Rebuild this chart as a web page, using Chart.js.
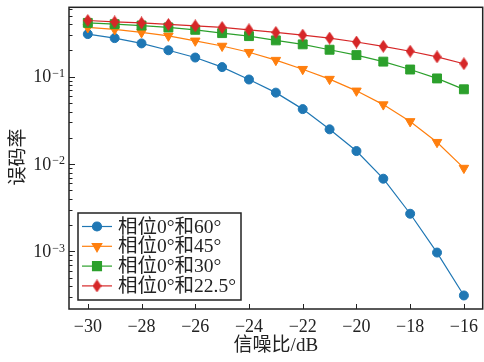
<!DOCTYPE html>
<html>
<head>
<meta charset="utf-8">
<script src="https://cdn.jsdelivr.net/npm/chart.js@4.4.0/dist/chart.umd.min.js"></script>
<style>
body { margin: 0; overflow: hidden; background: #fff; }
</style>
</head>
<body>
<canvas id="berChart" width="490" height="362"></canvas>
<script>
// 数据
const snr = [-30, -29, -28, -27, -26, -25, -24, -23, -22, -21, -20, -19, -18, -17, -16];
const ber60 = [0.308, 0.277, 0.241, 0.201, 0.166, 0.129, 0.093, 0.0658, 0.0426, 0.025, 0.0141, 0.0068, 0.0027, 0.00097, 0.000313];
const ber45 = [0.367, 0.348, 0.322, 0.294, 0.258, 0.225, 0.191, 0.155, 0.122, 0.094, 0.069, 0.048, 0.0308, 0.0178, 0.009];
const ber30 = [0.414, 0.400, 0.386, 0.367, 0.345, 0.316, 0.292, 0.261, 0.235, 0.204, 0.177, 0.149, 0.121, 0.0957, 0.0718];
const ber225 = [0.441, 0.425, 0.414, 0.397, 0.383, 0.367, 0.345, 0.322, 0.300, 0.277, 0.250, 0.223, 0.196, 0.169, 0.141];
const seriesNames = ['相位0°和60°', '相位0°和45°', '相位0°和30°', '相位0°和22.5°'];
const xTicks = [-30, -28, -26, -24, -22, -20, -18, -16];
const yTicks = [1e-3, 1e-2, 1e-1];
const yTickExp = ['−3', '−2', '−1'];

const FONT = "'Liberation Serif', 'Noto Sans CJK SC', serif";
const INK = '#222';

function thinDiamond(color) {
    const c = document.createElement('canvas');
    c.width = 9; c.height = 13;
    const g = c.getContext('2d');
    g.fillStyle = color;
    g.beginPath();
    g.moveTo(4.5, 0); g.lineTo(9, 6.5); g.lineTo(4.5, 13); g.lineTo(0, 6.5);
    g.closePath();
    g.fill();
    return c;
}

function makeSet(label, values, color, style, radius, rotation, order) {
    return {
        label: label,
        data: snr.map((x, i) => ({ x: x, y: values[i] })),
        borderColor: color,
        backgroundColor: color,
        borderWidth: 1.2,
        pointStyle: style,
        pointRadius: radius,
        pointRotation: rotation,
        pointBorderWidth: 1,
        pointBackgroundColor: color,
        pointBorderColor: color,
        tension: 0,
        order: order
    };
}

// 坐标框、刻度、标题和图例
const decorPlugin = {
    id: 'decor',
    afterDraw(chart) {
        const ctx = chart.ctx;
        const a = chart.chartArea;
        const xs = chart.scales.x, ys = chart.scales.y;
        ctx.save();
        ctx.strokeStyle = INK;
        ctx.lineWidth = 1.5;
        ctx.strokeRect(a.left, a.top, a.right - a.left, a.bottom - a.top);

        ctx.lineWidth = 1;
        ctx.beginPath();
        xTicks.forEach(v => {
            const px = Math.round(xs.getPixelForValue(v)) + 0.5;
            ctx.moveTo(px, a.bottom); ctx.lineTo(px, a.bottom - 5);
        });
        for (let n = -4; n <= 0; n++) {
            for (let k = 1; k <= 9; k++) {
                const v = k * Math.pow(10, n);
                if (v < ys.min || v > ys.max) continue;
                const py = Math.round(ys.getPixelForValue(v)) + 0.5;
                ctx.moveTo(a.left, py); ctx.lineTo(a.left + (k === 1 ? 6 : 3.5), py);
            }
        }
        ctx.stroke();

        // y 刻度标签 10^n
        ctx.fillStyle = INK;
        yTicks.forEach((v, i) => {
            const py = ys.getPixelForValue(v);
            ctx.font = '12px ' + FONT;
            const ew = ctx.measureText(yTickExp[i]).width;
            ctx.textAlign = 'right';
            ctx.textBaseline = 'top';
            ctx.fillText(yTickExp[i], 65, py - 9);
            ctx.font = '18px ' + FONT;
            ctx.textBaseline = 'middle';
            ctx.fillText('10', 65 - ew - 1, py + 1);
        });

        // 轴标题
        ctx.font = '19px ' + FONT;
        ctx.textAlign = 'center';
        ctx.textBaseline = 'middle';
        ctx.fillText('信噪比/dB', (a.left + a.right) / 2, 346);
        ctx.save();
        ctx.translate(19, 157);
        ctx.rotate(-Math.PI / 2);
        ctx.fillText('误码率', 0, 0);
        ctx.restore();

        // 图例
        const lx = 78, ly = 213, lw = 163, lh = 87;
        ctx.fillStyle = '#fff';
        ctx.fillRect(lx, ly, lw, lh);
        ctx.strokeStyle = INK;
        ctx.lineWidth = 1.5;
        ctx.strokeRect(lx, ly, lw, lh);
        chart.data.datasets.forEach((ds, i) => {
            const cy = 226.5 + i * 19.8;
            ctx.strokeStyle = ds.borderColor;
            ctx.lineWidth = 1.2;
            ctx.beginPath();
            ctx.moveTo(82, cy); ctx.lineTo(112, cy);
            ctx.stroke();
            ctx.fillStyle = ds.backgroundColor;
            Chart.helpers.drawPoint(ctx, {
                pointStyle: ds.pointStyle,
                radius: ds.pointRadius,
                rotation: ds.pointRotation,
                borderWidth: 1
            }, 97, cy);
            ctx.fillStyle = INK;
            ctx.font = '19.5px ' + FONT;
            ctx.textAlign = 'left';
            ctx.textBaseline = 'middle';
            ctx.fillText(ds.label, 118, cy + 1);
        });
        ctx.restore();
    }
};

const chart = new Chart(document.getElementById('berChart'), {
    type: 'line',
    data: {
        datasets: [
            makeSet(seriesNames[0], ber60, '#1f77b4', 'circle', 4.5, 0, 4),
            makeSet(seriesNames[1], ber45, '#ff7f0e', 'triangle', 5.5, 180, 3),
            makeSet(seriesNames[2], ber30, '#2ca02c', 'rect', 6.3, 0, 2),
            makeSet(seriesNames[3], ber225, '#d62728', thinDiamond('#d62728'), 5, 0, 1)
        ]
    },
    options: {
        responsive: false,
        animation: false,
        layout: { padding: { top: 5, right: 4, left: 0, bottom: 0 } },
        plugins: {
            legend: { display: false },
            tooltip: { enabled: false }
        },
        scales: {
            x: {
                type: 'linear',
                min: -30.7,
                max: -15.3,
                bounds: 'data',
                grid: { display: false },
                border: { display: false },
                afterBuildTicks: s => { s.ticks = xTicks.map(v => ({ value: v })); },
                afterFit: s => { s.height = 53; },
                ticks: {
                    padding: -1,
                    color: INK,
                    font: { family: FONT, size: 18 },
                    callback: v => (v < 0 ? '−' : '') + Math.abs(v)
                }
            },
            y: {
                type: 'logarithmic',
                min: 2.19e-4,
                max: 0.6243,
                bounds: 'data',
                grid: { display: false },
                border: { display: false },
                afterBuildTicks: s => { s.ticks = yTicks.map(v => ({ value: v })); },
                afterFit: s => { s.width = 69; },
                ticks: { display: false }
            }
        }
    },
    plugins: [decorPlugin]
});
</script>
</body>
</html>
